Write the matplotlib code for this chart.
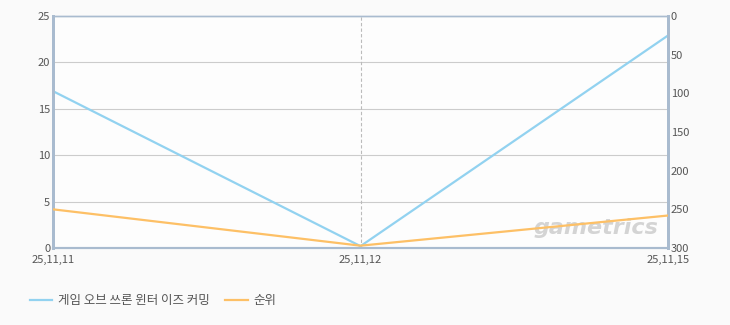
import matplotlib.pyplot as plt

plt.rcParams['font.family'] = ['Noto Sans CJK KR', 'DejaVu Sans']

# data
dates = ['25,11,11', '25,11,12', '25,11,15']
game_vals = [16.9, 0.2, 22.9]
rank_vals = [250, 297, 258]
game_name = '게임 오브 쓰론 윈터 이즈 커밍'
rank_name = '순위'

blue = '#92d2f0'
orange = '#fdc066'
spine_c = '#a9bbcf'
txt_c = '#555555'

fig = plt.figure(figsize=(7.3, 3.25), dpi=100)
fig.patch.set_facecolor('#fafafa')
ax = fig.add_axes([53/730, 1-248/325, 615/730, 232/325])
ax.set_facecolor('#fdfdfd')
ax2 = ax.twinx()

x = list(range(len(dates)))
l1, = ax.plot(x, game_vals, color=blue, lw=1.6, zorder=3)
l2, = ax2.plot(x, rank_vals, color=orange, lw=1.6, zorder=3)

ax.set_xlim(0, 2)
ax.set_ylim(0, 25)
ax2.set_ylim(300, 0)
ax.set_yticks([0, 5, 10, 15, 20, 25])
ax2.set_yticks([0, 50, 100, 150, 200, 250, 300])
ax.set_xticks(x)
ax.set_xticklabels(dates)

for v in [5, 10, 15, 20]:
    ax.axhline(v, color='#cccccc', lw=0.8, zorder=1)
ax.axvline(1, color='#bbbbbb', lw=0.8, ls=(0, (3, 2)), zorder=1)

for a in (ax, ax2):
    for s in a.spines.values():
        s.set_color(spine_c)
    a.spines['left'].set_linewidth(2)
    a.spines['right'].set_linewidth(2)
    a.spines['bottom'].set_linewidth(1.5)
    a.spines['top'].set_linewidth(1)
    a.tick_params(length=0, labelsize=8, labelcolor=txt_c, pad=2)
ax.tick_params(axis='x', pad=5)

# watermark
ax.text(0.985, 0.085, 'gametrics', transform=ax.transAxes, ha='right', va='center',
        fontsize=16, style='italic', weight='bold', color='#d4d4d4',
        family='DejaVu Sans', zorder=2)

fig.legend([l1, l2], [game_name, rank_name], loc='lower left', bbox_to_anchor=(0.025, 0.02),
           ncol=2, frameon=False, fontsize=9, handlelength=1.8, columnspacing=1.2,
           labelcolor=txt_c, handletextpad=0.5)

fig.savefig('out.png', dpi=100, facecolor=fig.get_facecolor())
